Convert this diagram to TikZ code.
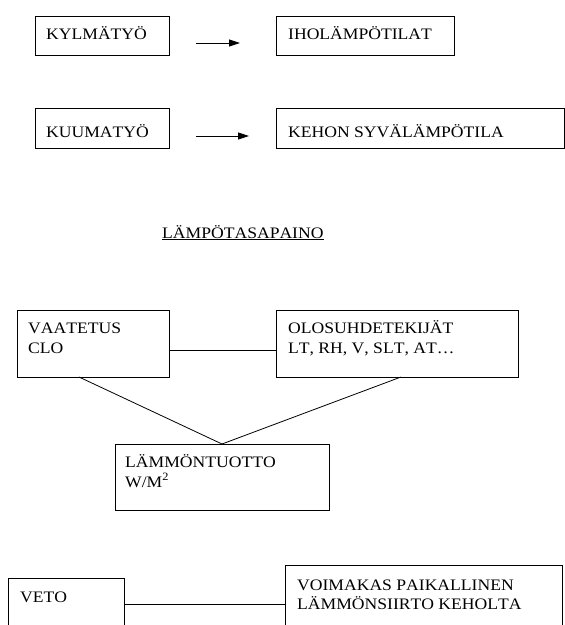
\documentclass[tikz,border=0pt]{standalone}
\usepackage{fontspec}
\setmainfont{Liberation Serif}[Kerning=Off, FakeStretch=1.1]
\usetikzlibrary{arrows.meta}
\begin{document}
\begin{tikzpicture}[x=1pt, y=-1pt,
  box/.style={draw, line width=0.8pt, inner sep=0pt, outer sep=0pt, anchor=north west},
  lbl/.style={anchor=base west, inner sep=0pt, font=\fontsize{16}{20}\selectfont},
  link/.style={line width=0.8pt},
  arrowline/.style={line width=0.8pt, -{Triangle[length=11pt, width=7pt]}}]
\useasboundingbox (0,0) rectangle (565,625);

% top pair of rows with arrows
\node[box, minimum width=134pt, minimum height=39pt] (kyl) at (35,16) {};
\node[box, minimum width=178pt, minimum height=39pt] (iho) at (276,16) {};
\node[lbl] (kylt) at (46,39) {KYLMÄTYÖ};
\node[lbl] (ihot) at (288,39) {IHOLÄMPÖTILAT};
\coordinate (a1s) at (196,43);
\coordinate (a1e) at (240,43);
\draw[arrowline] (a1s) -- (a1e);

\node[box, minimum width=134pt, minimum height=40pt] (kuu) at (35,108) {};
\node[box, minimum width=288pt, minimum height=40pt] (keh) at (276,108) {};
\node[lbl] (kuut) at (46,137) {KUUMATYÖ};
\node[lbl] (keht) at (288,137) {KEHON SYVÄLÄMPÖTILA};
\coordinate (a2s) at (196,136);
\coordinate (a2e) at (249,136);
\draw[arrowline] (a2s) -- (a2e);

% heading
\node[lbl] (otsikko) at (162,238) {\underline{LÄMPÖTASAPAINO}};

% heat balance triangle
\node[box, minimum width=152pt, minimum height=67pt] (vaa) at (17,310) {};
\node[box, minimum width=242pt, minimum height=67pt] (olo) at (276,310) {};
\node[box, minimum width=214pt, minimum height=66pt] (lam) at (115,444) {};
\node[lbl] (vaat1) at (28,333) {VAATETUS};
\node[lbl] (vaat2) at (28,353) {CLO};
\node[lbl] (olot1) at (288,333) {OLOSUHDETEKIJÄT};
\node[lbl] (olot2) at (288,353) {LT, RH, V, SLT, AT…};
\node[lbl] (lamt1) at (125,467) {LÄMMÖNTUOTTO};
\node[lbl] (lamt2) at (125,487) {W/M\textsuperscript{2}};
\draw[link] (vaa.east |- 0,350) -- (olo.west |- 0,350);
\draw[link] (vaa.south -| 79,0) -- (lam.north);
\draw[link] (olo.south -| 401,0) -- (lam.north);

% bottom row
\node[box, minimum width=116pt, minimum height=70pt] (vet) at (8,578) {};
\node[box, minimum width=277pt, minimum height=80pt] (voi) at (285,565) {};
\node[lbl] (vett) at (20,602) {VETO};
\node[lbl] (voit1) at (297,590) {VOIMAKAS PAIKALLINEN};
\node[lbl] (voit2) at (297,609) {LÄMMÖNSIIRTO KEHOLTA};
\draw[link] (vet.east |- 0,604) -- (voi.west |- 0,604);
\end{tikzpicture}
\end{document}
